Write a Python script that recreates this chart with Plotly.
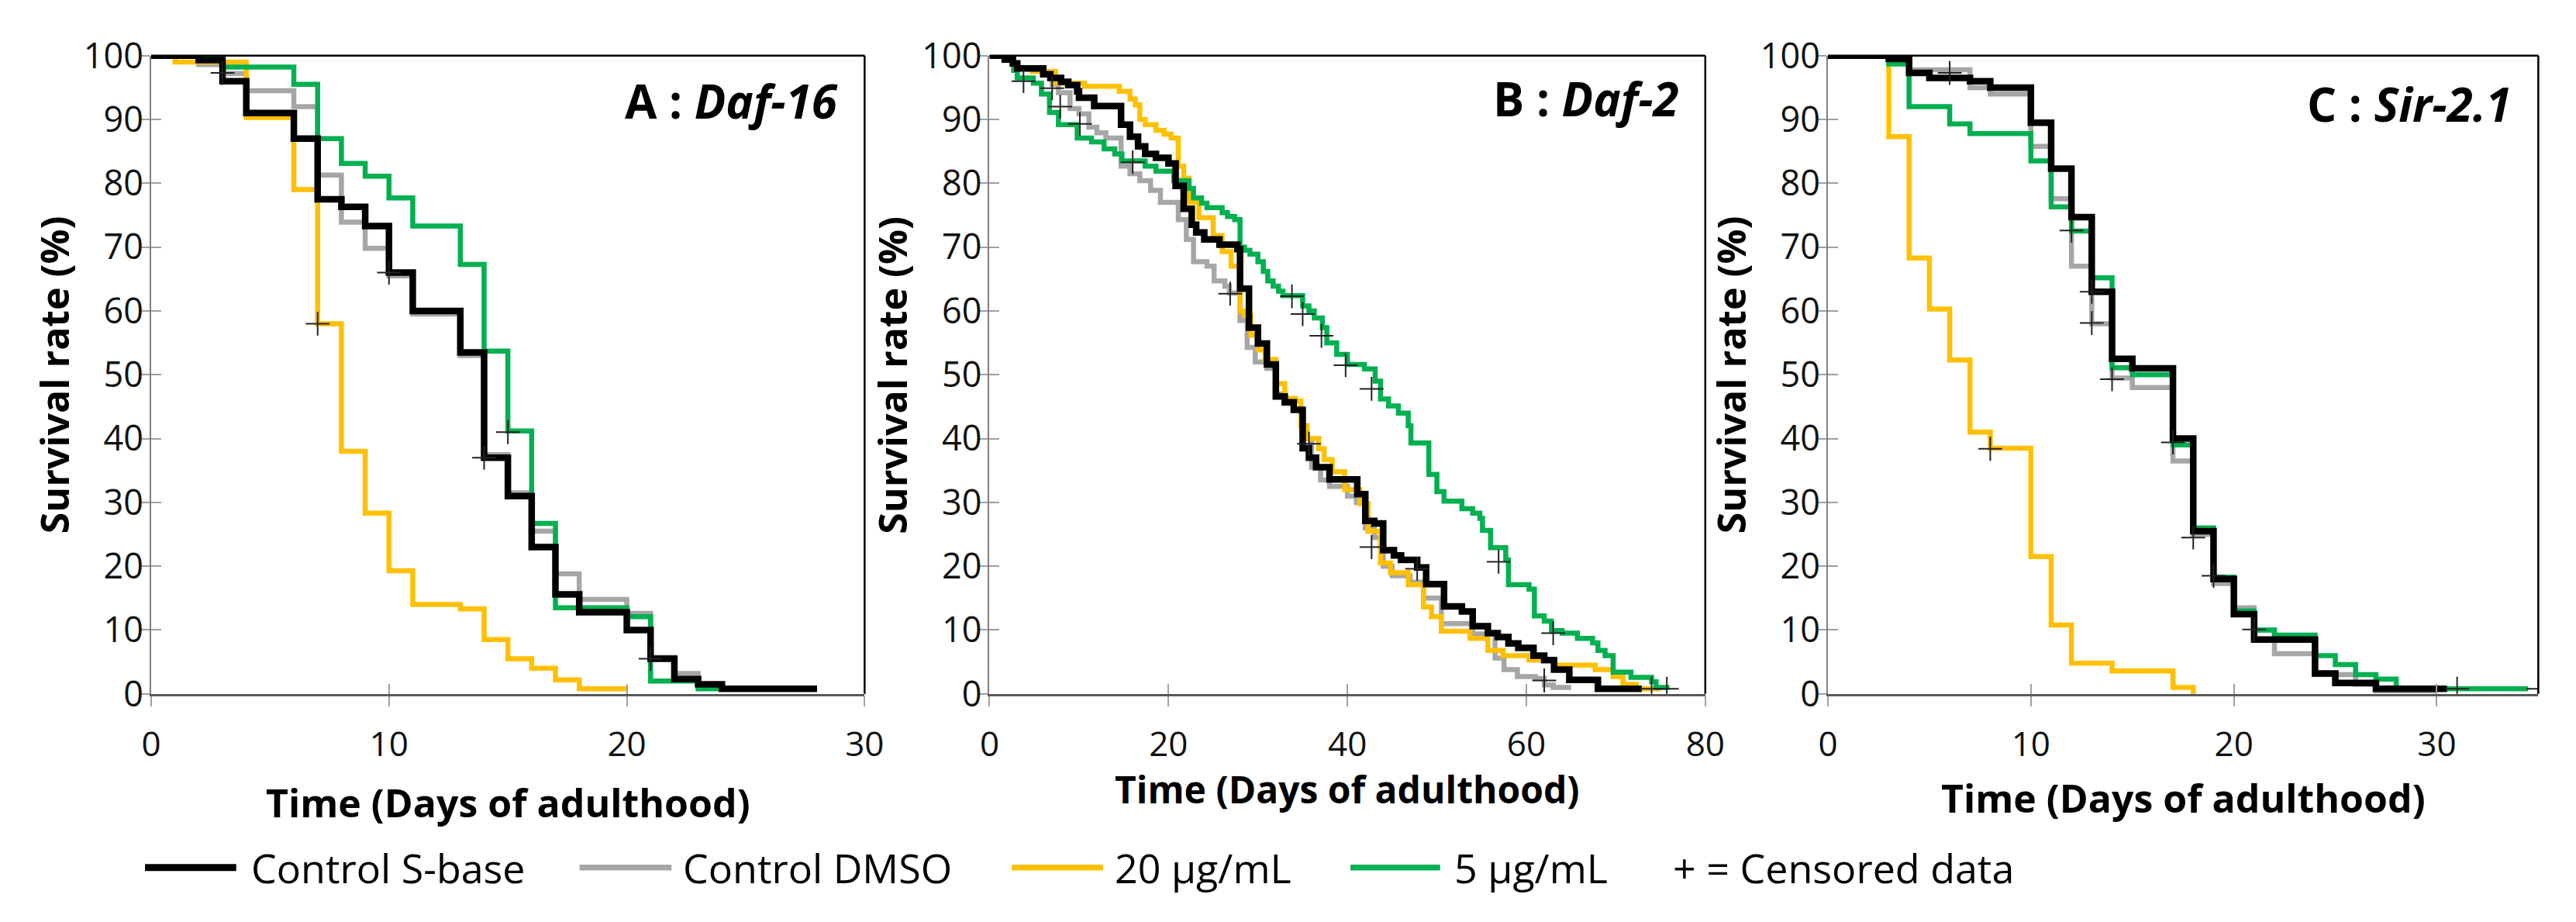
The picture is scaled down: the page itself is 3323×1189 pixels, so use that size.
import plotly.graph_objects as go

W, H = 3323, 1189

# ---- Panel A : Daf-16 ----
a_sbase_days = [0, 2, 3, 4, 6, 7, 8, 9, 10, 11, 13, 14, 15, 16, 17, 18, 20, 21, 22, 23, 24, 28]
a_sbase_surv = [100, 99.3, 96, 91, 87, 77.5, 76.3, 73.3, 66, 60, 53.5, 37, 31, 23, 15.6, 12.8, 10, 5.5, 2.3, 1.5, 0.8, 0.8]
a_dmso_days = [0, 2, 3, 4, 6, 7, 8, 9, 10, 11, 13, 14, 15, 16, 17, 18, 20, 21, 22, 23, 24]
a_dmso_surv = [100, 98.6, 97.2, 94.5, 92, 81.3, 73.9, 69.8, 65.5, 59.5, 53, 37.5, 31.5, 25.5, 18.8, 14.8, 12.6, 5.7, 3.2, 1.2, 1.2]
a_20_days = [0, 1, 4, 6, 7, 8, 9, 10, 11, 13, 14, 15, 16, 17, 18, 20]
a_20_surv = [100, 99, 90.3, 79, 58, 38, 28.3, 19.3, 14, 13.3, 8.5, 5.5, 4, 2.2, 0.8, 0.8]
a_5_days = [0, 3, 6, 7, 8, 9, 10, 11, 13, 14, 15, 16, 17, 20, 21, 23, 24]
a_5_surv = [100, 98.2, 95.5, 87, 83.1, 81.1, 77.7, 73.3, 67.3, 53.7, 41.2, 26.7, 13.5, 12.1, 2, 0.8, 0.8]
a_cens_days = [3, 7, 10, 14, 15, 21]
a_cens_surv = [97.3, 58, 66, 37, 41, 5.5]

# ---- Panel B : Daf-2 ----
b_sbase_days = [0, 1.7, 2.6, 3.1, 6, 6.8, 8, 8.8, 9.8, 10, 11.7, 14.7, 15.7, 16.6, 17.4, 18.6, 20, 20.8,
                21.7, 22.6, 23.1, 24, 25.7, 27.7, 28, 29, 30, 31, 32, 33, 34, 35, 35.7, 36.5, 38, 41.1,
                42, 43, 44, 45.2, 46, 47.8, 48.8, 50.8, 52.8, 54, 55.7, 56.8, 58, 59.1, 60.8, 62, 63.1,
                64.8, 68, 72.9]
b_sbase_surv = [100, 99.4, 98.8, 98, 97.1, 96.5, 95.9, 95.4, 94.4, 93.4, 92.1, 89.2, 87.3, 85.8, 84.6, 84, 83.1, 79.6,
                76, 73.5, 72.3, 71.2, 70.4, 69.7, 63.5, 57.4, 54.9, 51.6, 46.6, 45.7, 44.5, 38.5, 37, 35.5, 33.6, 31.3,
                27.1, 26.7, 22.5, 21.7, 21, 19.8, 17.2, 13.7, 12.9, 10.6, 9.5, 8.9, 7.9, 7.2, 6, 5.3, 3.8,
                2.2, 0.8, 0.8]
b_dmso_days = [0, 1.7, 2.6, 3.1, 6, 7, 7.7, 9, 10, 11.1, 12, 13, 14.7, 15.7, 16.8, 18, 19.1, 21.1, 22, 22.8,
               24.3, 25.1, 26.3, 26.8, 28, 28.8, 29.7, 31, 32, 33, 34, 35, 36, 37, 38, 40, 41, 42, 43, 44,
               45, 47, 48.5, 50.5, 54, 56.5, 57.5, 59, 61, 62, 63, 65]
b_dmso_surv = [100, 99.4, 98.8, 98, 97, 95.5, 94.2, 91.7, 90.9, 88.8, 87.9, 87.1, 82.7, 81.5, 80.4, 78.9, 77, 74.3, 71.2, 67.7,
               67, 64.7, 63.9, 62.8, 58.5, 54.3, 52, 51, 47, 45.5, 44.5, 40, 35.5, 33.5, 32.5, 31, 30, 26, 24.5, 20,
               18.5, 17.5, 15, 11, 9.4, 5.6, 3.8, 2.7, 2.4, 1.4, 1, 1]
b_20_days = [0, 1.7, 2.6, 3.1, 4.8, 7.4, 10.6, 14.5, 15.7, 16.3, 16.8, 17.4, 18.6, 19.5, 20.3, 21.1, 21.7, 22.3,
             23.4, 25, 26, 27, 28, 28.5, 29.2, 30, 30.8, 32, 33, 34.2, 34.8, 35.5, 36.8, 37.4, 38.3, 39.7, 41.4,
             42.3, 43.7, 44.8, 46.8, 48.5, 49.4, 50.5, 53.7, 55.7, 57.4, 60.3, 63.1, 67.7, 69.7, 70.8, 72.3, 75]
b_20_surv = [100, 99.4, 98.8, 98, 97.5, 95.7, 95.2, 94.4, 93.2, 92.3, 90, 89.2, 88.3, 87.7, 87.1, 82.7, 80.8, 77,
             74.6, 71.8, 69.3, 67, 60, 59.3, 56.2, 53.9, 52.4, 48.6, 46.3, 45.9, 42, 40, 38.4, 36.7, 34.8, 32, 29.8,
             25.5, 20.5, 19, 17.1, 13.6, 12.1, 9.8, 8.7, 6.8, 6, 5.3, 4.5, 3.8, 2.7, 1.5, 0.8, 0.8]
b_5_days = [0, 2.7, 3.1, 4.9, 5.8, 6.7, 7.7, 9.8, 11.4, 12.8, 14, 14.8, 17.4, 18.6, 20.6, 22.3, 22.8, 23.7, 24.3,
            26, 26.6, 27.4, 28, 28.5, 29.1, 30, 30.6, 31.1, 31.7, 32.3, 32.8, 35, 35.7, 36.3, 37.2, 37.7, 38.8,
            40, 41.9, 43.1, 43.7, 44.6, 45.7, 46.8, 47.1, 49.1, 50, 50.8, 52.8, 54, 54.8, 55.1, 56, 57.7, 58,
            60.3, 60.9, 62, 62.8, 64, 65.7, 67.4, 68, 68.8, 69.7, 71.7, 74, 74.5, 76]
b_5_surv = [100, 97.7, 96.5, 95.7, 94, 91.1, 89.2, 87.1, 86.5, 85.4, 84.6, 83.5, 82.7, 81.9, 80.4, 79.2, 77.7, 76.9, 76.2,
            75.4, 74.8, 74.3, 70, 69.5, 68.9, 67.7, 66.2, 64.7, 63.9, 63.1, 62.4, 60.8, 60, 58.9, 57.4, 55, 53.2,
            51.6, 50.9, 49, 46.2, 45.1, 44, 42, 39.3, 34.4, 31.7, 30.2, 29, 28.3, 27.5, 25.6, 22.9, 21, 17.1,
            16.4, 12.2, 11.4, 9.9, 9.5, 8.7, 8, 6.8, 6, 3.4, 2.6, 1.9, 1, 1]
b_cens_days = [3.8, 7, 7.9, 10.1, 16, 26.9, 33.8, 35, 37.1, 39.8, 42.7, 35.7, 42.7, 47.8, 56.9, 63, 62, 74, 75.7]
b_cens_surv = [96, 94.9, 92, 89.3, 83.3, 62.7, 62.3, 59.5, 56.1, 51.5, 47.8, 39.2, 23, 19.6, 20.7, 9.5, 2.1, 0.8, 0.8]

# ---- Panel C : Sir-2.1 ----
c_sbase_days = [0, 3, 4, 5, 7, 8, 10, 11, 12, 13, 14, 15, 17, 18, 19, 20, 21, 24, 25, 27, 30.5]
c_sbase_surv = [100, 99.5, 97.3, 96.5, 96, 95, 89.5, 82.3, 74.7, 63, 52.5, 51, 40, 25.5, 18, 12.5, 8.5, 3.2, 1.7, 0.8, 0.8]
c_dmso_days = [0, 3, 4, 7, 8, 10, 11, 12, 13, 14, 15, 17, 18, 19, 20, 21, 22, 24, 26, 27, 30]
c_dmso_surv = [100, 99, 97.8, 95, 94, 85.8, 77.6, 67, 58, 49.5, 48, 36.5, 25, 17.3, 13.5, 10, 6.3, 3, 1.5, 0.5, 0.5]
c_20_days = [0, 3, 4, 5, 6, 7, 8, 10, 11, 12, 14, 17, 18]
c_20_surv = [100, 87.3, 68.3, 60.3, 52.3, 41, 38.5, 21.5, 10.8, 4.8, 3.6, 1, 0]
c_5_days = [0, 3, 4, 6, 7, 10, 11, 12, 13, 14, 15, 17, 18, 19, 20, 21, 22, 24, 25, 26, 27, 28, 34.5]
c_5_surv = [100, 98.7, 92, 89.3, 87.8, 83.5, 76.3, 72.5, 65.2, 51.1, 50, 39, 26, 18.3, 13, 10, 9.2, 6, 4.6, 3, 2.3, 0.8, 0.8]
c_cens_days = [6, 8, 12, 13, 13, 14, 17, 18, 19, 21, 31, 35]
c_cens_surv = [97.3, 38.4, 72.6, 63, 58.1, 49.3, 39.4, 24.5, 18.5, 10.1, 0.8, 0.8]

series_names = ["Control S-base", "Control DMSO", "20 µg/mL", "5 µg/mL"]
series_colors = ["#000000", "#A6A6A6", "#FFC000", "#00B050"]
panel_labels = ["A : <i>Daf-16</i>", "B : <i>Daf-2</i>", "C : <i>Sir-2.1</i>"]
x_maxes = [30, 80, 35]
x_dticks = [10, 20, 10]

panels = [
    [(a_sbase_days, a_sbase_surv), (a_dmso_days, a_dmso_surv), (a_20_days, a_20_surv), (a_5_days, a_5_surv),
     (a_cens_days, a_cens_surv)],
    [(b_sbase_days, b_sbase_surv), (b_dmso_days, b_dmso_surv), (b_20_days, b_20_surv), (b_5_days, b_5_surv),
     (b_cens_days, b_cens_surv)],
    [(c_sbase_days, c_sbase_surv), (c_dmso_days, c_dmso_surv), (c_20_days, c_20_surv), (c_5_days, c_5_surv),
     (c_cens_days, c_cens_surv)],
]

# pixel positions of each plot box (left, right) and of the x titles
x_doms = [(176, 1107), (1270, 2204), (2364, 3291)]
x_title_y = [1049, 1030, 1042]
x_title_size = [50, 48, 50]
label_y = [95, 92, 99]
y_dom = [1 - 901 / H, 1 - 33.5 / H]

FONT = "Open Sans"
TICK_COLOR = "#A0A0A0"
fig = go.Figure()
draw_order = [1, 2, 3, 0]  # gray, yellow, green, black on top

for p, data in enumerate(panels):
    xa = "x" if p == 0 else f"x{p + 1}"
    ya = "y" if p == 0 else f"y{p + 1}"
    for s in draw_order:
        days, surv = data[s]
        fig.add_trace(go.Scatter(
            x=days, y=surv, mode="lines", line_shape="hv",
            line=dict(color=series_colors[s], width=8.5 if s == 0 else 6.5),
            name=series_names[s], showlegend=False, xaxis=xa, yaxis=ya))
    cd, cs = data[4]
    fig.add_trace(go.Scatter(
        x=cd, y=cs, mode="markers",
        marker=dict(symbol="cross-thin", size=22, line=dict(color="#222222", width=2)),
        name="Censored", showlegend=False, xaxis=xa, yaxis=ya))

    sfx = "" if p == 0 else str(p + 1)
    xdom = [x_doms[p][0] / W, x_doms[p][1] / W]
    fig.layout["xaxis" + sfx] = dict(
        domain=xdom, anchor=ya, range=[0, x_maxes[p]], dtick=x_dticks[p], tick0=0,
        showgrid=False, zeroline=False, showline=True, linecolor="#595959", linewidth=3,
        ticks="outside", ticklen=13, tickwidth=2, tickcolor=TICK_COLOR,
        ticklabelstandoff=11, tickfont=dict(family=FONT, size=44, color="#111111"))
    fig.layout["yaxis" + sfx] = dict(
        domain=y_dom, anchor=xa, range=[0, 100], dtick=10,
        showgrid=False, zeroline=False, showline=True, linecolor="#808080", linewidth=2,
        ticks="outside", ticklen=13, tickwidth=2, tickcolor=TICK_COLOR,
        ticklabelstandoff=-14, tickfont=dict(family=FONT, size=45, color="#111111"))

    # second set of axes only for the inner half of the crossing tick marks
    ox = f"xaxis{p + 4}"
    oy = f"yaxis{p + 4}"
    fig.layout[ox] = dict(
        domain=xdom, anchor=ya, overlaying=xa, range=[0, x_maxes[p]], dtick=x_dticks[p], tick0=0,
        showgrid=False, zeroline=False, showline=False, showticklabels=False,
        ticks="inside", ticklen=13, tickwidth=2, tickcolor=TICK_COLOR)
    fig.layout[oy] = dict(
        domain=y_dom, anchor=xa, overlaying=ya, range=[0, 100], dtick=10,
        showgrid=False, zeroline=False, showline=False, showticklabels=False,
        ticks="inside", ticklen=13, tickwidth=2, tickcolor=TICK_COLOR)

    # top and right frame lines
    fig.add_shape(type="line", xref=xa + " domain", yref=ya + " domain", x0=0, x1=1, y0=1, y1=1,
                  line=dict(color="#000000", width=2.5))
    fig.add_shape(type="line", xref=xa + " domain", yref=ya + " domain", x0=1, x1=1, y0=0, y1=1,
                  line=dict(color="#000000", width=2.5))

    fig.add_annotation(text="<b>" + panel_labels[p] + "</b>", xref=xa + " domain", x=1, xshift=-32,
                       xanchor="right", yref="paper", y=1 - label_y[p] / H, yanchor="middle",
                       showarrow=False, font=dict(family=FONT, size=60, color="#000000"))
    fig.add_annotation(text="<b>Time (Days of adulthood)</b>", xref=xa + " domain", x=0.5, xanchor="center",
                       yref="paper", y=1 - x_title_y[p] / H, yanchor="middle", showarrow=False,
                       font=dict(family=FONT, size=x_title_size[p], color="#000000"))
    fig.add_annotation(text="<b>Survival rate (%)</b>", xref=xa + " domain", x=0, xshift=-125, xanchor="center",
                       yref=ya + " domain", y=0.5, yanchor="middle", textangle=-90, showarrow=False,
                       font=dict(family=FONT, size=50, color="#000000"))

# empty traces so the tick-only overlay axes are drawn
for p in range(3):
    fig.add_trace(go.Scatter(x=[None], y=[None], mode="lines", showlegend=False, hoverinfo="skip",
                             xaxis=f"x{p + 4}", yaxis=f"y{p + 4}"))

# hand-made legend row under the panels
legend_y = 1 - 1137 / H
legend_lines = [(168, 287), (735, 855), (1299, 1418), (1741, 1858)]
legend_text_x = [304, 868, 1431, 1874]
for s in range(4):
    fig.add_shape(type="line", xref="paper", yref="paper",
                  x0=legend_lines[s][0] / W, x1=legend_lines[s][1] / W, y0=legend_y, y1=legend_y,
                  line=dict(color=series_colors[s], width=9 if s == 0 else 7.5))
    fig.add_annotation(text=series_names[s], xref="paper", x=legend_text_x[s] / W, xanchor="left",
                       yref="paper", y=legend_y, yanchor="middle", showarrow=False,
                       font=dict(family=FONT, size=52, color="#000000"))
fig.add_annotation(text="+ = Censored data", xref="paper", x=2160 / W, xanchor="left",
                   yref="paper", y=legend_y, yanchor="middle", showarrow=False,
                   font=dict(family=FONT, size=52, color="#000000"))

fig.update_layout(width=W, height=H, margin=dict(l=0, r=0, t=0, b=0),
                  paper_bgcolor="white", plot_bgcolor="white", showlegend=False)

fig.write_html("out.html")
